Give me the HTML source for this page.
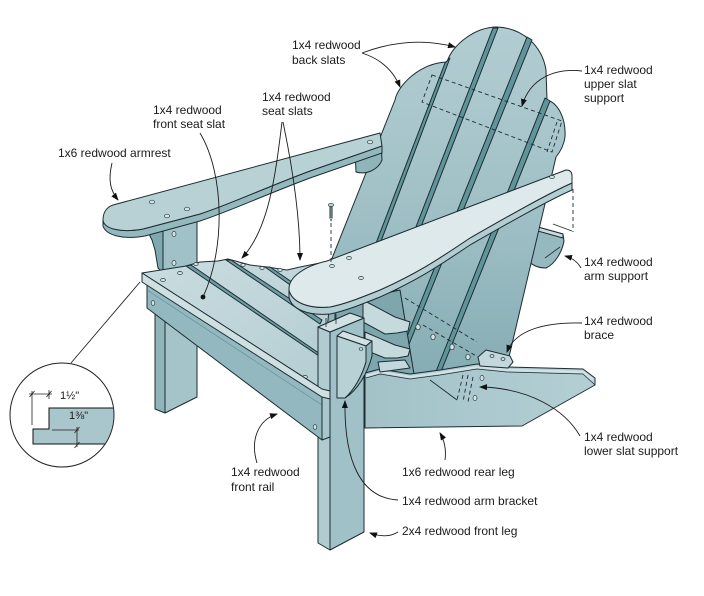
<!DOCTYPE html>
<html><head><meta charset="utf-8">
<style>
html,body{margin:0;padding:0;background:#fff;}
svg{display:block;}
text{font-family:"Liberation Sans","DejaVu Sans",sans-serif;font-size:12px;fill:#1b1b1b;}
.o{stroke:#1d2c31;stroke-width:1;stroke-linejoin:round;}
.ld{fill:none;stroke:#1b1b1b;stroke-width:0.9;}
.h{fill:#d4e3e5;stroke:#2a3a3f;stroke-width:0.7;}
.dash{fill:none;stroke:#1d2c31;stroke-width:0.9;stroke-dasharray:4,3;}
</style></head><body>
<svg width="704" height="596" viewBox="0 0 704 596" xmlns="http://www.w3.org/2000/svg">
<defs>
<marker id="ah" markerWidth="8" markerHeight="6" refX="7" refY="3" orient="auto" markerUnits="userSpaceOnUse"><path d="M0,0 L8,3 L0,6 Z" fill="#111"/></marker>
<linearGradient id="gBack" x1="0" y1="0" x2="0" y2="1"><stop offset="0" stop-color="#b2cdd2"/><stop offset="0.5" stop-color="#a1c1c7"/><stop offset="1" stop-color="#86adb4"/></linearGradient>
<linearGradient id="gSlat" x1="0" y1="0" x2="1" y2="1"><stop offset="0" stop-color="#c9dcdf"/><stop offset="1" stop-color="#b5ced3"/></linearGradient>
<linearGradient id="gRear" x1="0" y1="0" x2="1" y2="0"><stop offset="0" stop-color="#a2c2c8"/><stop offset="1" stop-color="#b3cfd4"/></linearGradient>
<clipPath id="cc"><circle cx="62" cy="415" r="51.5"/></clipPath>
</defs>

<!-- right arm support (behind back) -->
<path class="o" d="M527,224 L563,234 L564,241 C562,252 555,264 546,268 C538,268 530,265 527,258 Z" fill="#95b9bf"/>
<path class="o" d="M527,224 L563,234 L563,238 L527,228 Z" fill="#c8dcdf"/>
<path d="M545,258 L560,247" stroke="#1d2c31" stroke-width="0.8"/>
<path class="dash" d="M573,189 L573,232"/>
<path d="M553,224 L572,231" stroke="#1d2c31" stroke-width="0.8"/>

<!-- back -->
<path class="o" d="M395,100 C398,85 420,63 447,62 C452,45 475,27 497,27 C522,28 542,45 546,70 L547,100 C558,103 566,118 565,137 C564,145 560,152 556,157 L505,374 L286,374 Z" fill="url(#gBack)"/>
<path class="o" d="M445,63 L450,58 L331,374 L326,374 Z" fill="#5f949b"/>
<path class="o" d="M493,28 L498,28 L364,374 L359,374 Z" fill="#5f949b"/>
<path class="o" d="M527,37 L532,40 L397,374 L392,374 Z" fill="#5f949b"/>
<path class="o" d="M545,98 L550,101 L440,374 L435,374 Z" fill="#5f949b"/>
<!-- upper slat support hidden -->
<path class="dash" d="M432,75 L562,121 L552,152 L422,102 Z"/>
<path class="dash" d="M557,122 L547,152"/>
<!-- lower hidden lines -->
<path class="dash" d="M405,298 L477,342"/>
<path class="dash" d="M423,325 L478,357"/>
<ellipse class="h" cx="418" cy="327" rx="2.2" ry="2.8"/>
<ellipse class="h" cx="433" cy="337" rx="2.2" ry="2.8"/>
<ellipse class="h" cx="452" cy="347" rx="2.2" ry="2.8"/>
<ellipse class="h" cx="468" cy="357" rx="2.2" ry="2.8"/>

<!-- left rear arm support -->
<path class="o" d="M355,150 L381,142 L382,160 C378,170 366,175 356,172 Z" fill="#8fb5bb"/>

<!-- left arm bracket + post -->
<path class="o" d="M148,232 L163,229 L163,273 L158,268 L155,250 L152,240 Z" fill="#7fa9b0"/>
<path class="o" d="M163,230 L197,219 L197,268 L163,278 Z" fill="#9fc1c7"/>
<ellipse class="h" cx="174" cy="234" rx="2" ry="2.6"/>
<ellipse class="h" cx="174" cy="263" rx="2" ry="2.6"/>

<!-- left armrest -->
<path class="o" d="M103,220 C104,229 121,233 143,229 L200,214 C228,205 262,189 310,171 L382,146 L382,153 L310,178 C262,196 228,212 200,221 L145,236 C122,240 106,235 103,226 Z" fill="#93b8be"/>
<path class="o" d="M113,205 L380,133 L382,146 L310,171 C262,189 228,205 200,214 L143,229 C121,233 104,229 103,220 C103,212 107,207 113,205 Z" fill="#b7d1d5"/>
<ellipse class="h" cx="152" cy="202" rx="2.6" ry="1.8"/>
<ellipse class="h" cx="167" cy="216" rx="2.6" ry="1.8"/>
<ellipse class="h" cx="187" cy="209" rx="2.6" ry="1.8"/>
<ellipse class="h" cx="370" cy="142" rx="2.6" ry="1.8"/>

<!-- left front leg -->
<path class="o" d="M155,300 L165,305 L165,413 L155,409 Z" fill="#8fb4ba"/>
<path class="o" d="M165,305 L197,320 L197,397 L165,413 Z" fill="#a5c4ca"/>

<!-- seat slats (behind) -->
<path class="o" d="M186,266 L200,262 L218,261 L228,259 L250,265 L267,267 L287,270 L300,267 L320,263 L330,300 L326,340 L322,362 Z" fill="url(#gSlat)"/>
<path class="o" d="M186,266 L191,265 L323,356 L321,361 Z" fill="#6b9ca3"/>
<path class="o" d="M226,260 L231,260 L322,320 L320,324 Z" fill="#6b9ca3"/>
<path class="o" d="M265,267 L270,267 L302,289 L300,292 Z" fill="#6b9ca3"/>
<ellipse class="h" cx="196" cy="264" rx="2.2" ry="1.5"/>
<ellipse class="h" cx="243" cy="265" rx="2.2" ry="1.5"/>
<ellipse class="h" cx="262" cy="268" rx="2.2" ry="1.5"/>
<ellipse class="h" cx="280" cy="270" rx="2.2" ry="1.5"/>

<!-- dark under-seat region behind right leg -->
<path class="o" d="M335,305 L400,290 L414,374 L335,380 Z" fill="#7ea6ad"/>
<path class="o" d="M363,300 L395,317 L410,322 L408,331 L397,333 L385,334 L363,322 Z" fill="#c5dadd"/>
<path class="o" d="M365,332 L395,345 L410,349 L408,356 L397,358 L385,358 L365,350 Z" fill="#c5dadd"/>

<!-- rear leg -->
<path class="o" d="M365,373 L380,369 L410,374 L440,370 L477,364 L507,367 L583,369 L595,378 L595,385 L522,426 L365,428 Z" fill="url(#gRear)"/>
<path d="M366,376 L380,372 L410,377 L440,373 L477,367 L507,370 L583,372 L593,380" fill="none" stroke="#d2e2e4" stroke-width="2.5"/>
<path d="M366,378 L380,374 L410,379 L440,375 L477,369 L507,372 L583,374 L595,385" fill="none" stroke="#1d2c31" stroke-width="0.7"/>
<!-- brace & small blocks -->
<path class="o" d="M478,357 L486,350 L510,356 L513,362 L508,368 L480,366 Z" fill="#c3d8dc"/>
<path class="o" d="M378,362 L405,360 L410,368 L380,372 Z" fill="#c3d8dc"/>
<ellipse class="h" cx="492" cy="356" rx="2" ry="1.4"/>
<ellipse class="h" cx="503" cy="359" rx="2" ry="1.4"/>
<!-- lower slat support -->
<path d="M430,380 L457,400" stroke="#1d2c31" stroke-width="0.9"/>
<path class="dash" d="M463,375 L457,400"/>
<path class="dash" d="M468,375 L463,402"/>
<path class="dash" d="M473,377 L468,402"/>
<ellipse class="h" cx="482" cy="378" rx="2" ry="2.6"/>
<ellipse class="h" cx="475" cy="398" rx="2" ry="2.6"/>

<!-- front seat slat -->
<path class="o" d="M142,273 L186,266 L322,358 L322,389 Z" fill="url(#gSlat)"/>
<ellipse class="h" cx="163" cy="280" rx="2.4" ry="1.6"/>
<ellipse class="h" cx="180" cy="273" rx="2.4" ry="1.6"/>
<ellipse class="h" cx="305" cy="377" rx="2.4" ry="1.6"/>

<!-- right front leg -->
<path class="o" d="M318,327 L330,332 L330,550 L318,543 Z" fill="#b1ccd1"/>
<path class="o" d="M330,332 L364,318 L364,532 L330,550 Z" fill="#a0c1c7"/>
<path class="o" d="M318,327 L350,313 L364,318 L330,332 Z" fill="#d2e2e4"/>
<path d="M326,318 L326,327 M336,314 L336,324" stroke="#1d2c31" stroke-width="0.8"/>
<!-- arm bracket -->
<path class="o" d="M337,336 L343,331 L372,341 L366,346 Z" fill="#d2e2e4"/>
<path class="o" d="M337,336 L366,346 L366,362 C362,376 354,391 345,398 L337,398 Z" fill="#b8d1d5"/>
<path class="o" d="M366,346 L372,341 L372,356 C368,372 358,390 345,398 C354,390 362,376 366,362 Z" fill="#8fb4ba"/>
<ellipse class="h" cx="361" cy="349" rx="1.8" ry="1.3"/>

<!-- rail -->
<path class="o" d="M147,283 L322,397 L322,440 L147,308 Z" fill="#93b8bf"/>
<path d="M147,290 L322,405" stroke="#5f8d94" stroke-width="0.6"/>
<path class="o" d="M322,397 L330,395 L330,437 L322,440 Z" fill="#a9c8cd"/>
<ellipse class="h" cx="153" cy="303" rx="1.8" ry="2.4"/>
<ellipse class="h" cx="315" cy="427" rx="1.8" ry="2.4"/>
<!-- slat front face -->
<path class="o" d="M142,273 L322,389 L330,391 L330,399 L322,397 L142,282 Z" fill="#cfe0e3"/>

<!-- right armrest -->
<path class="o" d="M289,290 C292,303 310,309 330,307 C345,304 360,298 380,290 C420,272 440,258 470,238 C505,218 545,195 572,183 L572,190 C545,202 505,225 470,245 C440,265 420,279 380,297 C360,305 345,311 330,314 C308,316 291,309 289,297 Z" fill="#b3ced3"/>
<path class="o" d="M327,261 L566,170 Q572,170 572,176 L572,183 C545,195 505,218 470,238 C440,258 420,272 380,290 C360,298 345,304 330,307 C310,309 292,303 289,290 C288,277 305,266 327,261 Z" fill="#dde9eb"/>
<ellipse class="h" cx="332" cy="266" rx="2.4" ry="1.6"/>
<ellipse class="h" cx="349" cy="258" rx="2.4" ry="1.6"/>
<ellipse class="h" cx="361" cy="278" rx="2.4" ry="1.6"/>
<ellipse class="h" cx="552" cy="177" rx="2.4" ry="1.6"/>

<!-- nail -->
<path d="M331,206 L331,218" stroke="#6d7e82" stroke-width="2.4"/>
<path d="M329.8,206 L329.8,218 L331,221 L332.2,218 L332.2,206" fill="none" stroke="#1d2c31" stroke-width="0.6"/>
<ellipse cx="331" cy="205" rx="2.6" ry="1.4" fill="#c9d6d8" stroke="#1d2c31" stroke-width="0.6"/>
<path class="dash" d="M331,223 L331,262"/>

<!-- inset -->
<circle cx="62" cy="415" r="52" fill="#fff"/>
<path d="M49,408 L120,408 L120,444 L33,444 L33,429 L49,429 Z" fill="#a9c6cc" stroke="#111" stroke-width="1" clip-path="url(#cc)"/>
<circle cx="62" cy="415" r="52" fill="none" stroke="#222" stroke-width="1"/>
<line x1="71" y1="363" x2="140" y2="282" stroke="#222" stroke-width="0.9"/>
<g stroke="#222" stroke-width="0.8" fill="none">
<line x1="32" y1="391" x2="32" y2="425"/>
<line x1="29" y1="394" x2="52" y2="394"/>
<line x1="49" y1="390" x2="49" y2="399"/>
<line x1="29.5" y1="397" x2="34.5" y2="391"/>
<line x1="46.5" y1="397" x2="51.5" y2="391"/>
<line x1="52" y1="430" x2="79" y2="430"/>
<line x1="77" y1="427" x2="77" y2="447"/>
<line x1="74.5" y1="433" x2="79.5" y2="427"/>
<line x1="74.5" y1="448" x2="79.5" y2="442"/>
</g>
<text x="60" y="399" style="font-size:11px">1½"</text>
<text x="69" y="419" style="font-size:11px">1⅜"</text>

<!-- leaders -->
<path class="ld" d="M362,53 Q410,35 455,47" marker-end="url(#ah)"/>
<path class="ld" d="M362,53 Q390,62 400,87" marker-end="url(#ah)"/>
<path class="ld" d="M582,71 C555,68 530,78 522,106" marker-end="url(#ah)"/>
<path class="ld" d="M581,268 Q576,259 565,256" marker-end="url(#ah)"/>
<path class="ld" d="M582,323 C545,322 515,330 507,352" marker-end="url(#ah)"/>
<path class="ld" d="M580,436 C565,410 530,388 480,387" marker-end="url(#ah)"/>
<path class="ld" d="M445,460 Q447,445 440,433" marker-end="url(#ah)"/>
<path class="ld" d="M398,500 C360,498 344,460 345,401" marker-end="url(#ah)"/>
<path class="ld" d="M398,532 Q387,539 370,533" marker-end="url(#ah)"/>
<path class="ld" d="M257,463 C250,440 258,420 277,414" marker-end="url(#ah)"/>
<path class="ld" d="M112,163 C108,180 110,190 118,200" marker-end="url(#ah)"/>
<path class="ld" d="M200,133 C225,175 225,250 203,297"/>
<circle cx="203" cy="297" r="2.4" fill="#111"/>
<path class="ld" d="M282,122 C275,180 268,230 242,258" marker-end="url(#ah)"/>
<path class="ld" d="M283,122 C293,170 300,220 300,260" marker-end="url(#ah)"/>

<!-- labels -->
<text x="292" y="49">1x4 redwood</text>
<text x="292" y="64">back slats</text>
<text x="262" y="101">1x4 redwood</text>
<text x="262" y="115">seat slats</text>
<text x="153" y="114">1x4 redwood</text>
<text x="153" y="128">front seat slat</text>
<text x="58" y="157">1x6 redwood armrest</text>
<text x="584" y="74">1x4 redwood</text>
<text x="584" y="88">upper slat</text>
<text x="584" y="102">support</text>
<text x="584" y="266">1x4 redwood</text>
<text x="584" y="280">arm support</text>
<text x="584" y="325">1x4 redwood</text>
<text x="584" y="339">brace</text>
<text x="584" y="441">1x4 redwood</text>
<text x="584" y="455">lower slat support</text>
<text x="402" y="476">1x6 redwood rear leg</text>
<text x="402" y="505">1x4 redwood arm bracket</text>
<text x="402" y="535">2x4 redwood front leg</text>
<text x="231" y="476">1x4 redwood</text>
<text x="231" y="491">front rail</text>
</svg>
</body></html>
